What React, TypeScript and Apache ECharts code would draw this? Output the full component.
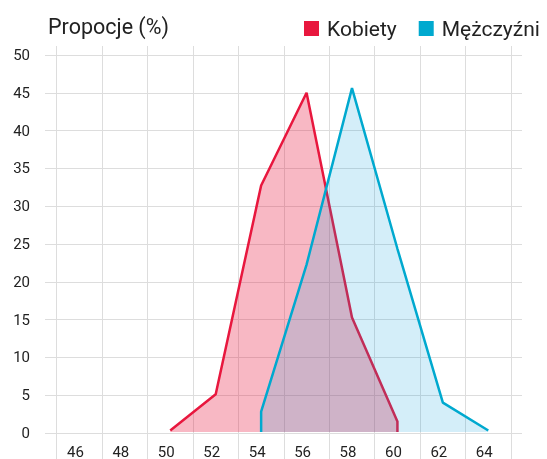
import React, { useEffect, useRef } from "react";
import * as echarts from "echarts";

const categories = ["46", "48", "50", "52", "54", "56", "58", "60", "62", "64"];
const kobietyX = [50, 52, 54, 56, 58, 60, 60];
const kobietyY = [0.2, 5.0, 32.7, 45.0, 15.2, 1.4, 0];
const mezczyzniX = [54, 54, 56, 58, 60, 62, 64];
const mezczyzniY = [0, 2.7, 22.2, 45.6, 24.3, 3.9, 0.2];

const RED = "#e8173e";
const BLUE = "#00a9cf";
const FONT = "Roboto";

export default function App() {
  const ref = useRef<HTMLDivElement>(null);
  useEffect(() => {
    if (!ref.current) return;
    const chart = echarts.init(ref.current, null, { renderer: "svg" });
    const gridLine = { show: true, lineStyle: { color: "#dddddd", width: 1 } };
    chart.setOption({
      animation: false,
      title: {
        text: "Propocje (%)",
        left: 43,
        top: 10,
        textStyle: { fontFamily: FONT, fontSize: 21.5, fontWeight: "normal", color: "#222" },
      },
      legend: {
        left: 299,
        top: 13,
        itemWidth: 15,
        itemHeight: 15,
        itemGap: 22,
        icon: "rect",
        textStyle: { fontFamily: FONT, fontSize: 21, color: "#222", padding: [0, 0, 0, 3] },
        data: [
          { name: "Kobiety", itemStyle: { color: RED } },
          { name: "Mężczyźni", itemStyle: { color: BLUE } },
        ],
      },
      grid: [
        { left: 45, right: 25, top: 55, bottom: 26 },
        { left: 56.7, right: 36, top: 46, bottom: 0 },
        { left: 56.7, right: 36, top: 55, bottom: 26 },
      ],
      xAxis: [
        { gridIndex: 0, type: "value", min: 0, max: 1, show: false },
        {
          gridIndex: 1,
          type: "category",
          data: categories,
          boundaryGap: true,
          axisLine: { show: false },
          axisTick: { show: false },
          axisLabel: { show: false },
          splitLine: gridLine,
        },
        {
          gridIndex: 2,
          type: "category",
          data: categories,
          boundaryGap: true,
          axisLine: { show: false },
          axisTick: { show: false },
          splitLine: { show: false },
          axisLabel: {
            margin: 12,
            fontFamily: FONT,
            fontSize: 15,
            color: "#222",
            padding: [0, 8, 0, 0],
          },
        },
        { gridIndex: 2, type: "value", min: 45, max: 65, show: false },
      ],
      yAxis: [
        {
          gridIndex: 0,
          type: "value",
          min: 0,
          max: 50,
          interval: 5,
          axisLine: { show: false },
          axisTick: { show: false },
          splitLine: gridLine,
          axisLabel: { margin: 15, fontFamily: FONT, fontSize: 15, color: "#222" },
        },
        { gridIndex: 1, type: "value", min: 0, max: 1, show: false },
        { gridIndex: 2, type: "value", min: 0, max: 50, show: false },
      ],
      series: [
        {
          name: "Kobiety",
          type: "line",
          xAxisIndex: 3,
          yAxisIndex: 2,
          symbol: "none",
          data: kobietyX.map((x, i) => [x, kobietyY[i]]),
          lineStyle: { color: RED, width: 2.5 },
          itemStyle: { color: RED },
          areaStyle: { color: "rgba(232,23,62,0.305)", opacity: 1 },
          z: 2,
        },
        {
          name: "Mężczyźni",
          type: "line",
          xAxisIndex: 3,
          yAxisIndex: 2,
          symbol: "none",
          data: mezczyzniX.map((x, i) => [x, mezczyzniY[i]]),
          lineStyle: { color: BLUE, width: 2.5 },
          itemStyle: { color: BLUE },
          areaStyle: { color: "rgba(0,155,220,0.17)", opacity: 1 },
          z: 3,
        },
      ],
    });
    return () => chart.dispose();
  }, []);
  return (
    <div
      ref={ref}
      style={{ position: "fixed", left: 0, top: 0, width: 547, height: 459 }}
    />
  );
}
